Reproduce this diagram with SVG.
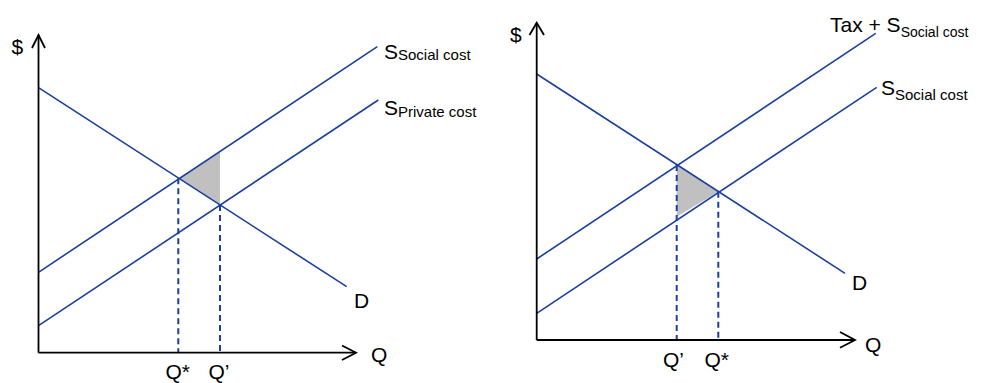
<svg xmlns="http://www.w3.org/2000/svg" width="981" height="383" viewBox="0 0 981 383">
<style>
.ax{stroke:#000;stroke-width:1.8;fill:none}
.cv{stroke:#1a3f9e;stroke-width:1.6;fill:none}
.dash{stroke:#1a3f9e;stroke-width:2;stroke-dasharray:6 4;fill:none}
.sh{fill:#c0c0c0;stroke:none}
text{font-family:"Liberation Sans",Arial,sans-serif;fill:#000}
.m{font-size:21px}
.s{font-size:15px}
</style>
<rect width="981" height="383" fill="#fff"/>
<g id="left-chart">
  <polygon class="sh" points="178.3,178.3 220,151.7 220,205"/>
  <g id="left-connectors">
    <line class="dash" x1="178.3" y1="178.3" x2="178.3" y2="352.7"/>
    <line class="dash" x1="220" y1="205" x2="220" y2="352.7"/>
    <line class="cv" x1="38.5" y1="87.7" x2="346.7" y2="286.7"/>
    <line class="cv" x1="38.5" y1="272.3" x2="377.3" y2="46.7"/>
    <line class="cv" x1="38.5" y1="325.7" x2="378.3" y2="100"/>
  </g>
  <g id="left-axes">
    <polyline class="ax" points="38.5,352.7 38.5,35"/>
    <polyline class="ax" points="32,48 38.5,35 45,48"/>
    <polyline class="ax" points="38.5,352.7 356,352.7"/>
    <polyline class="ax" points="342,345.5 356,352.7 342,360"/>
  </g>
  <text class="m" x="11.5" y="53.8">$</text>
  <text class="m" x="384" y="58.5">S<tspan class="s" dy="1">Social cost</tspan></text>
  <text class="m" x="384" y="114.7">S<tspan class="s" dy="2.5">Private cost</tspan></text>
  <text class="m" x="354" y="307.5">D</text>
  <text class="m" x="371" y="362">Q</text>
  <text class="m" x="165.5" y="378.5">Q*</text>
  <text class="m" x="208.5" y="378.5">Q’</text>
</g>
<g id="right-chart">
  <polygon class="sh" points="676.7,165 718.3,191.7 676.7,216.7"/>
  <g id="right-connectors">
    <line class="dash" x1="676.7" y1="165" x2="676.7" y2="340"/>
    <line class="dash" x1="718.3" y1="191.7" x2="718.3" y2="340"/>
    <line class="cv" x1="536.7" y1="74" x2="845" y2="273.3"/>
    <line class="cv" x1="536.7" y1="259" x2="875.7" y2="33.3"/>
    <line class="cv" x1="536.7" y1="313.3" x2="876.7" y2="87.3"/>
  </g>
  <g id="right-axes">
    <polyline class="ax" points="536.7,340 536.7,22.7"/>
    <polyline class="ax" points="529.5,35 536.7,22.7 544,35"/>
    <polyline class="ax" points="536.7,340 855,340"/>
    <polyline class="ax" points="840,332 855,340 840,347.7"/>
  </g>
  <text class="m" x="510" y="41.8">$</text>
  <text class="m" x="830" y="31.8">Tax + S<tspan class="s" style="font-size:14px" dy="5">Social cost</tspan></text>
  <text class="m" x="881" y="95">S<tspan class="s" dy="5">Social cost</tspan></text>
  <text class="m" x="852" y="290">D</text>
  <text class="m" x="865" y="351.7">Q</text>
  <text class="m" x="663" y="366.7">Q’</text>
  <text class="m" x="704.5" y="366.7">Q*</text>
</g>
</svg>
